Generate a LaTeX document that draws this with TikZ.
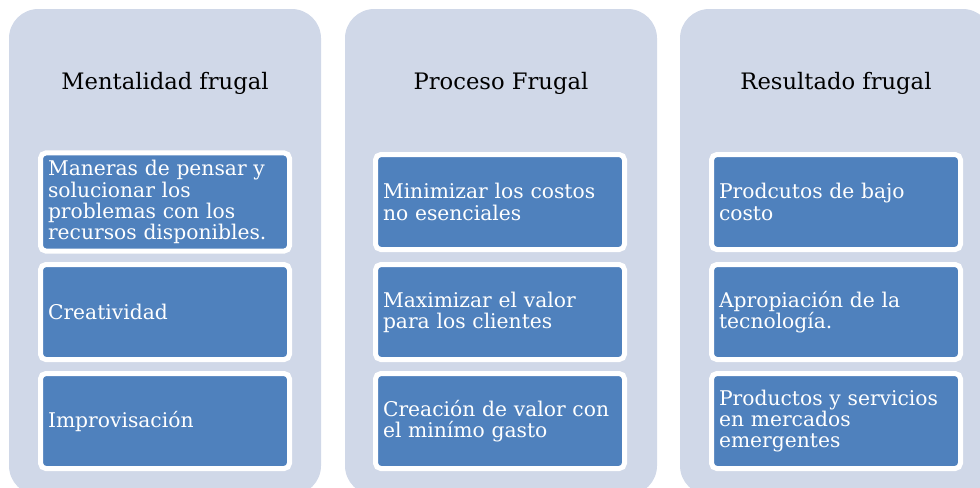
\documentclass[tikz,border=0pt]{standalone}
\usepackage{fontspec}
\setmainfont{DejaVu Serif}
\usepackage{xcolor}
\definecolor{panelgray}{HTML}{D0D8E8}
\definecolor{itemblue}{HTML}{4F81BD}

\begin{document}
\begin{tikzpicture}[x=0.75pt,y=-0.75pt]
\tikzset{panel/.style = {shape=rectangle,fill=panelgray,rounded corners=22pt,
	minimum width=234pt,minimum height=364.5pt,inner sep=0pt}}
\tikzset{heading/.style = {font=\fontsize{17}{20}\selectfont,text=black}}
\tikzset{item/.style = {shape=rectangle,fill=itemblue,draw=white,line width=3.75pt,
	rounded corners=4pt,minimum width=186.75pt,minimum height=71.25pt,
	inner sep=5.6pt,text width=175.5pt,align=left,text=white,
	font=\fontsize{15.2}{15.9}\selectfont}}
\clip (0,0) rectangle (980,487);
% panels
\node[panel] (p1) at (165,252) {};
\node[panel] (p2) at (501,252) {};
\node[panel] (p3) at (836,252) {};
% headings
\node[heading] (h1) at (165,83) {Mentalidad frugal};
\node[heading] (h2) at (501,83) {Proceso Frugal};
\node[heading] (h3) at (836,83) {Resultado frugal};
% items
\node[item] (a) at (165,202) {Maneras de pensar y\\ solucionar los\\ problemas con los\\ recursos disponibles.};
\node[item] (b) at (165,312) {Creatividad};
\node[item] (c) at (165,421) {Improvisación};
\node[item] (d) at (500,202) {Minimizar los costos\\ no esenciales};
\node[item] (e) at (500,312) {Maximizar el valor\\ para los clientes};
\node[item] (f) at (500,421) {Creación de valor con\\ el minímo gasto};
\node[item] (g) at (836,202) {Prodcutos de bajo\\ costo};
\node[item] (h) at (836,312) {Apropiación de la\\ tecnología.};
\node[item] (i) at (836,421) {Productos y servicios\\ en mercados\\ emergentes};
\end{tikzpicture}
\end{document}
